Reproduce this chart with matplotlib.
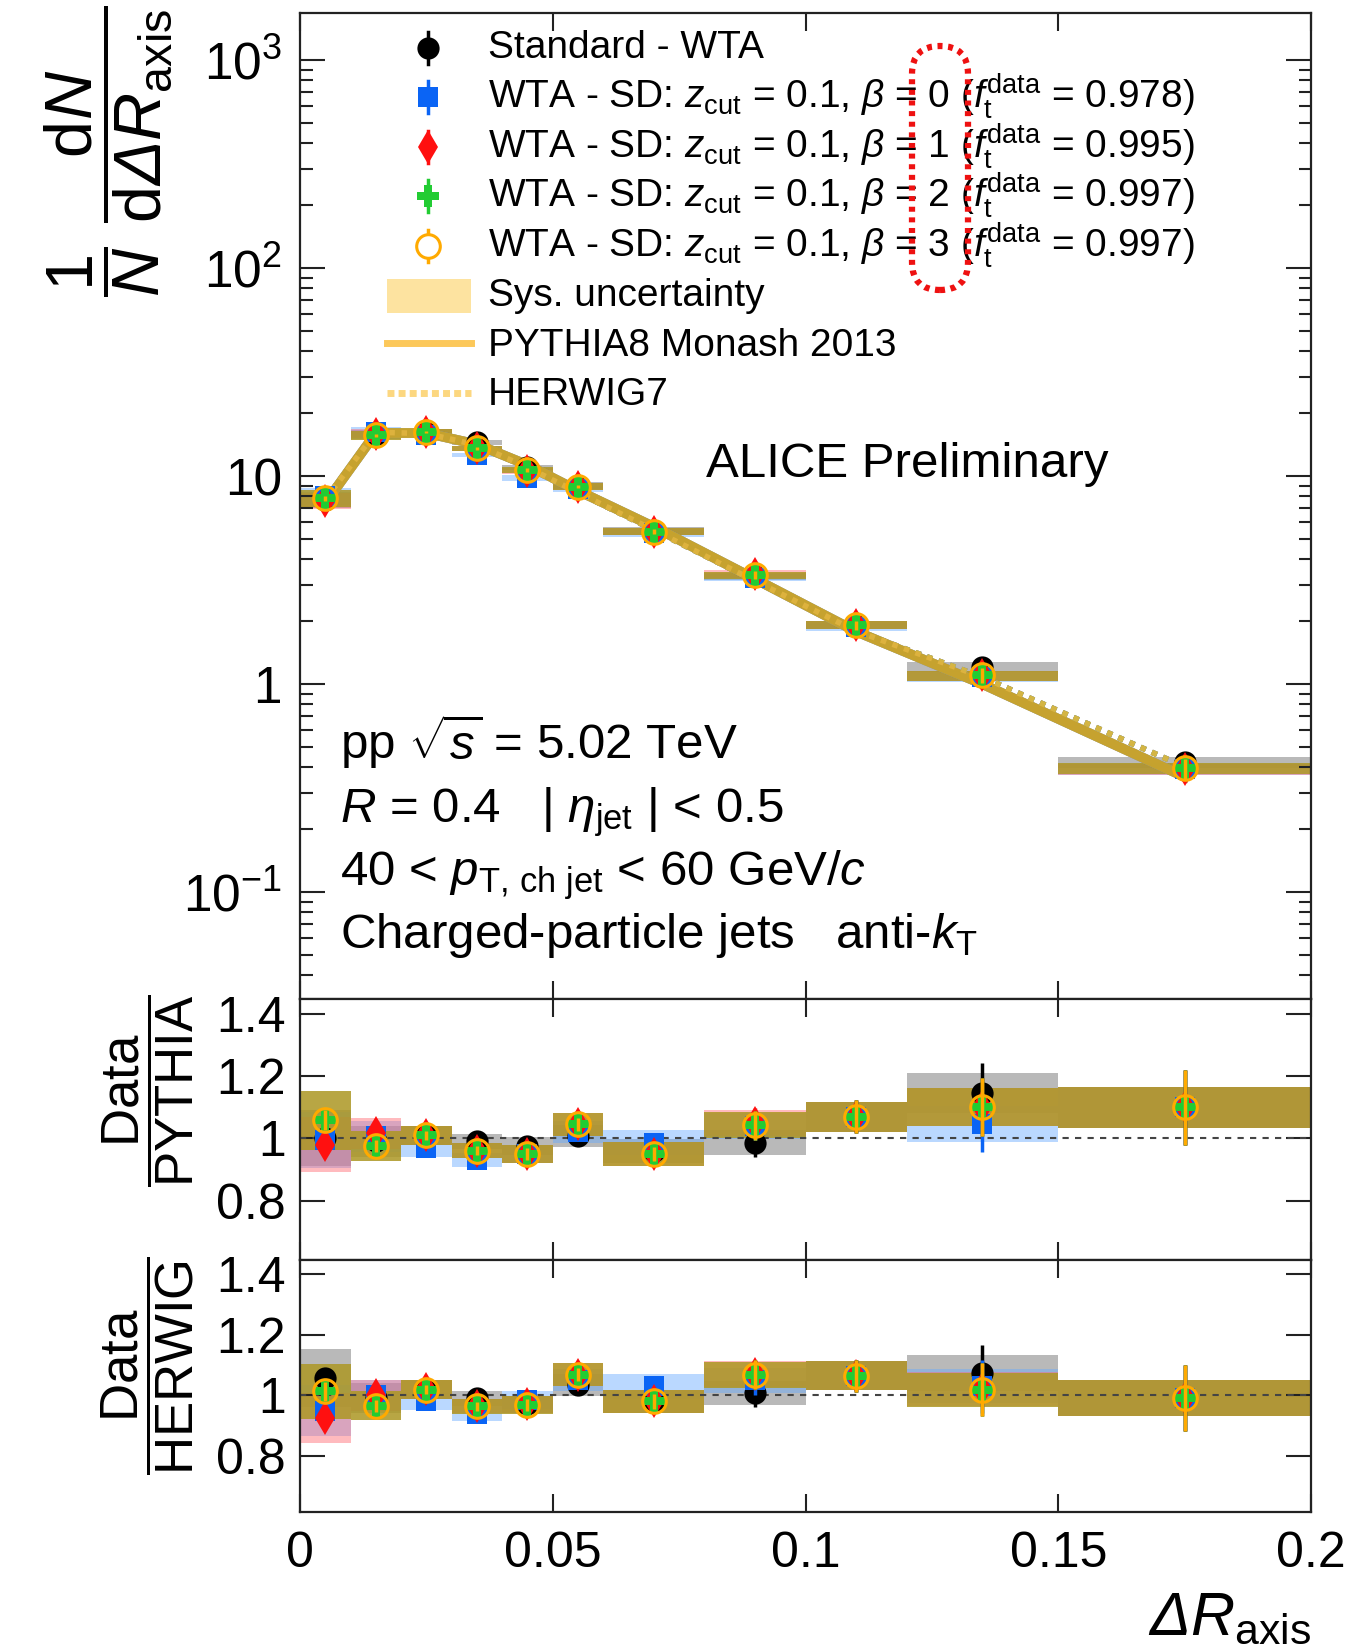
import numpy as np
import matplotlib
matplotlib.use('Agg')
import matplotlib.pyplot as plt
from matplotlib.ticker import FixedLocator, LogLocator, FuncFormatter, NullFormatter, NullLocator
from matplotlib.patches import FancyBboxPatch, Rectangle
from matplotlib.transforms import IdentityTransform

plt.rcParams['font.family'] = ['Liberation Sans', 'DejaVu Sans']
plt.rcParams['mathtext.fontset'] = 'custom'
plt.rcParams['mathtext.rm'] = 'Liberation Sans'
plt.rcParams['mathtext.it'] = 'Liberation Sans:italic'
plt.rcParams['mathtext.bf'] = 'Liberation Sans:bold'
# used only for the italic Delta
plt.rcParams['mathtext.sf'] = 'Liberation Sans:italic'

# binning in Delta R_axis
bin_edges = [0.0, 0.01, 0.02, 0.03, 0.04, 0.05, 0.06, 0.08, 0.10, 0.12, 0.15, 0.20]

# series: Standard-WTA, beta = 0, 1, 2, 3
labels = [
    'Standard - WTA',
    r'WTA - SD: $z_{\mathrm{cut}}$ = 0.1, $\beta$ = 0 ($f_{\mathrm{t}}^{\mathrm{data}}$ = 0.978)',
    r'WTA - SD: $z_{\mathrm{cut}}$ = 0.1, $\beta$ = 1 ($f_{\mathrm{t}}^{\mathrm{data}}$ = 0.995)',
    r'WTA - SD: $z_{\mathrm{cut}}$ = 0.1, $\beta$ = 2 ($f_{\mathrm{t}}^{\mathrm{data}}$ = 0.997)',
    r'WTA - SD: $z_{\mathrm{cut}}$ = 0.1, $\beta$ = 3 ($f_{\mathrm{t}}^{\mathrm{data}}$ = 0.997)',
]

dist_std = [7.7, 15.8, 16.4, 14.5, 11.0, 9.0, 5.45, 3.30, 1.93, 1.21, 0.42]
dist_b0 = [8.0, 16.3, 15.8, 12.6, 9.8, 8.7, 5.30, 3.25, 1.88, 1.08, 0.39]
dist_b1 = [7.6, 16.0, 16.3, 13.6, 10.6, 8.9, 5.40, 3.38, 1.92, 1.10, 0.39]
dist_b2 = [7.82, 15.7, 16.3, 13.6, 10.7, 8.9, 5.40, 3.34, 1.92, 1.10, 0.394]
dist_b3 = [7.82, 15.7, 16.3, 13.6, 10.7, 8.9, 5.40, 3.34, 1.92, 1.10, 0.394]

# relative stat. and sys. uncertainties
stat_rel = [0.03, 0.02, 0.015, 0.015, 0.02, 0.02, 0.025, 0.045, 0.05, 0.085, 0.11]
sys_rel = [0.09, 0.05, 0.03, 0.025, 0.03, 0.035, 0.04, 0.04, 0.045, 0.055, 0.06]

# MC predictions
pythia = [7.4, 16.1, 16.1, 14.2, 11.3, 8.5, 5.7, 3.2, 1.79, 1.0, 0.358]
herwig = [7.7, 16.25, 16.0, 14.1, 11.0, 8.33, 5.5, 3.13, 1.80, 1.08, 0.40]

# data / PYTHIA
rp_std = [1.0, 0.99, 1.01, 0.99, 0.975, 1.007, 0.96, 0.986, 1.07, 1.146, 1.10]
rp_b0 = [0.995, 1.007, 0.97, 0.93, 0.95, 1.02, 0.986, 1.04, 1.07, 1.045, 1.10]
rp_b1 = [0.98, 1.016, 1.01, 0.96, 0.95, 1.045, 0.95, 1.05, 1.07, 1.10, 1.10]
rp_b2 = [1.058, 0.975, 1.01, 0.96, 0.95, 1.045, 0.95, 1.042, 1.07, 1.10, 1.10]
rp_b3 = [1.058, 0.975, 1.01, 0.96, 0.95, 1.045, 0.95, 1.042, 1.07, 1.10, 1.10]

# data / HERWIG
rh_std = [1.057, 0.99, 1.02, 0.99, 0.97, 1.035, 0.98, 1.008, 1.065, 1.074, 0.99]
rh_b0 = [0.95, 1.0, 0.98, 0.94, 0.985, 1.05, 1.03, 1.05, 1.065, 1.03, 0.99]
rh_b1 = [0.925, 1.0, 1.02, 0.965, 0.97, 1.068, 0.98, 1.07, 1.065, 1.02, 0.99]
rh_b2 = [1.013, 0.966, 1.019, 0.964, 0.969, 1.068, 0.98, 1.068, 1.065, 1.019, 0.991]
rh_b3 = [1.013, 0.966, 1.019, 0.964, 0.969, 1.068, 0.98, 1.068, 1.065, 1.019, 0.991]

dists = [dist_std, dist_b0, dist_b1, dist_b2, dist_b3]
r_pythia = [rp_std, rp_b0, rp_b1, rp_b2, rp_b3]
r_herwig = [rh_std, rh_b0, rh_b1, rh_b2, rh_b3]

colors = ['black', '#0a64f5', '#ff1010', '#22cc33', '#ffaa00']
sys_colors = ['#808080', '#66aaff', '#ff6670', '#66cc66', '#b8901c']
sys_alpha = [0.55, 0.45, 0.45, 0.45, 0.75]
markers = ['o', 's', 'd', 'P', 'o']
msizes = [16, 15, 17, 16, 17]

edges = np.array(bin_edges)
lo = edges[:-1]
width = np.diff(edges)
centers = lo + width / 2

fig = plt.figure(figsize=(13.5, 16.52), dpi=100)
W, H = 1350.0, 1652.0
L, R = 300, 1311
ax = fig.add_axes([L / W, 1 - 999 / H, (R - L) / W, (999 - 13) / H])
ax1 = fig.add_axes([L / W, 1 - 1260 / H, (R - L) / W, (1260 - 999) / H], sharex=ax)
ax2 = fig.add_axes([L / W, 1 - 1512 / H, (R - L) / W, (1512 - 1260) / H], sharex=ax)


def draw_points(a, vals_list):
    for i, vals in enumerate(vals_list):
        v = np.array(vals)
        kw = dict(mfc='none', mew=2.2) if i == 4 else dict(mfc=colors[i], mew=0)
        a.errorbar(centers, v, yerr=v * np.array(stat_rel), fmt=markers[i], ms=msizes[i],
                   color=colors[i], mec=colors[i], elinewidth=2.5, capsize=0, zorder=5 + i, **kw)


def draw_sys(a, vals_list):
    for i, vals in enumerate(vals_list):
        v = np.array(vals)
        s = np.array(sys_rel)
        a.bar(lo, 2 * v * s, width=width, bottom=v * (1 - s), align='edge',
              color=sys_colors[i], alpha=sys_alpha[i], linewidth=0, zorder=1)


# main panel
draw_sys(ax, dists)
for i in range(4):
    ax.plot(centers, pythia, ls='-', lw=7, color=sys_colors[i], alpha=0.5, zorder=2)
ax.plot(centers, pythia, ls='-', lw=7, color='#c9a22a', alpha=0.95, zorder=3)
for i in range(4):
    ax.plot(centers, herwig, ls=(0, (1, 1.2)), lw=4, color=sys_colors[i], alpha=0.9, zorder=2.5)
ax.plot(centers, herwig, ls=(0, (1, 1.2)), lw=4, color='#e0b440', alpha=0.9, zorder=3.5)
draw_points(ax, dists)

ax.set_yscale('log')
ax.set_ylim(10 ** -1.514, 10 ** 3.226)
ax.set_xlim(0, 0.2)


def log_fmt(v, pos):
    e = int(round(np.log10(v)))
    if e == 0:
        return '1'
    if e == 1:
        return '10'
    return r'$10^{%d}$' % e


ax.yaxis.set_major_locator(FixedLocator([0.1, 1, 10, 100, 1000]))
ax.yaxis.set_major_formatter(FuncFormatter(log_fmt))
ax.yaxis.set_minor_locator(LogLocator(base=10, subs=np.arange(2, 10)))
ax.yaxis.set_minor_formatter(NullFormatter())

# ratio panels
for a, rlist in [(ax1, r_pythia), (ax2, r_herwig)]:
    draw_sys(a, rlist)
    a.axhline(1.0, color='#444444', ls=(0, (3, 3)), lw=1.5, zorder=2)
    draw_points(a, rlist)
    a.yaxis.set_major_locator(FixedLocator([0.8, 1.0, 1.2, 1.4]))
    a.yaxis.set_major_formatter(FuncFormatter(lambda v, p: '1' if abs(v - 1) < 1e-6 else '%.1f' % v))
    a.yaxis.set_minor_locator(NullLocator())
ax1.set_ylim(0.609, 1.448)
ax2.set_ylim(0.615, 1.447)

for a in [ax, ax1, ax2]:
    a.xaxis.set_major_locator(FixedLocator([0, 0.05, 0.1, 0.15, 0.2]))
    a.xaxis.set_minor_locator(NullLocator())
    a.tick_params(axis='both', which='both', direction='in', top=True, right=True,
                  labelsize=36, width=1.5, colors='#222222', labelcolor='black')
    a.tick_params(axis='x', which='major', length=13, pad=14)
    a.tick_params(axis='y', which='major', length=18, pad=10)
    a.tick_params(axis='y', which='minor', length=9)
    for sp in a.spines.values():
        sp.set_linewidth(1.6)
        sp.set_color('#222222')
ax.tick_params(axis='y', labelsize=37, pad=13)
ax.tick_params(axis='x', labelbottom=False)
ax1.tick_params(axis='x', labelbottom=False)
ax2.xaxis.set_major_formatter(FuncFormatter(lambda v, p: '0' if v == 0 else ('%g' % v)))

# axis titles
fig.text(108 / W, 1 - 5 / H,
         r'$\dfrac{1}{N}\ \dfrac{\mathrm{d}N}{\mathrm{d}\mathsf{\Delta}R_{\mathrm{axis}}}$',
         rotation=90, ha='center', va='top', fontsize=48)
fig.text(148 / W, 1 - 1091 / H, r'$\dfrac{\mathrm{Data}}{\mathrm{PYTHIA}}$',
         rotation=90, ha='center', va='center', fontsize=38)
fig.text(148 / W, 1 - 1366 / H, r'$\dfrac{\mathrm{Data}}{\mathrm{HERWIG}}$',
         rotation=90, ha='center', va='center', fontsize=38)
fig.text(1311 / W, 1 - 1634 / H, r'$\mathsf{\Delta}R_{\mathrm{axis}}$',
         ha='right', va='baseline', fontsize=44)


def axy(py):
    return (999 - py) / 986.0


def axx(px):
    return (px - 300) / 1011.0


# annotations
ax.text(axx(706), axy(477), 'ALICE Preliminary', transform=ax.transAxes, fontsize=35.5, va='baseline')
info = [
    r'pp $\sqrt{s}$ = 5.02 TeV',
    r'$R$ = 0.4   | $\eta_{\mathrm{jet}}$ | < 0.5',
    r'40 < $p_{\mathrm{T,\,ch\ jet}}$ < 60 GeV/$c$',
    r'Charged-particle jets   anti-$k_{\mathrm{T}}$',
]
for k, t in enumerate(info):
    ax.text(axx(340), axy(759 + 63 * k), t, transform=ax.transAxes, fontsize=35.5, va='baseline')

# legend, drawn by hand
hx = axx(428)
tx = axx(488)
for i in range(5):
    cy = 47.5 + 49.6 * i
    ax.plot([hx, hx], [axy(cy + 16), axy(cy - 16)], color=colors[i], lw=2.5,
            transform=ax.transAxes, clip_on=False, zorder=10)
    kw = dict(mfc='white', mew=2.2) if i == 4 else dict(mfc=colors[i], mew=0)
    ax.plot([hx], [axy(cy)], marker=markers[i], ms=msizes[i], color=colors[i], mec=colors[i],
            transform=ax.transAxes, clip_on=False, zorder=11, **kw)
    ax.text(tx, axy(cy + 11), labels[i], transform=ax.transAxes, fontsize=28, va='baseline')

ax.add_patch(Rectangle((axx(387), axy(313)), 84 / 1011.0, 34 / 986.0, transform=ax.transAxes,
                       facecolor='#fde3a0', edgecolor='none', zorder=10))
ax.text(tx, axy(306), 'Sys. uncertainty', transform=ax.transAxes, fontsize=28, va='baseline')
ax.plot([axx(387), axx(471)], [axy(343), axy(343)], color='#fcc85a', lw=5,
        transform=ax.transAxes, zorder=10)
ax.text(tx, axy(355.5), 'PYTHIA8 Monash 2013', transform=ax.transAxes, fontsize=28, va='baseline')
ax.plot([axx(387), axx(471)], [axy(393), axy(393)], color='#fcd780', lw=5, ls=(0, (1, 0.6)),
        transform=ax.transAxes, zorder=10)
ax.text(tx, axy(405), 'HERWIG7', transform=ax.transAxes, fontsize=28, va='baseline')

# red dotted highlight around the beta values
hl = FancyBboxPatch((912, H - 290), 56, 244, boxstyle='round,pad=0,rounding_size=28',
                    transform=IdentityTransform(), facecolor='none', edgecolor='#ee1111',
                    lw=4.5, ls=(0, (0.8, 0.9)), zorder=20)
fig.add_artist(hl)

fig.savefig('out.png', dpi=100)
